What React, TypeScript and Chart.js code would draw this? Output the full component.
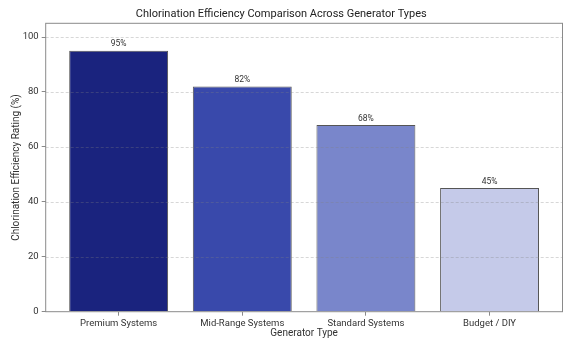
import React, { useEffect, useRef } from "react";
import { Chart, registerables } from "chart.js";

Chart.register(...registerables);

const categories = ["Premium Systems", "Mid-Range Systems", "Standard Systems", "Budget / DIY"];
const efficiency = [95, 82, 68, 45];
const barColors = ["#1a237e", "#3949ab", "#7986cb", "#c5cae9"];
const yTickValues = [0, 20, 40, 60, 80, 100];

const FONT = "Roboto, 'DejaVu Sans', sans-serif";

const overlay = {
  id: "overlay",
  afterDatasetsDraw(chart: any) {
    const { ctx, chartArea, scales } = chart;
    const { left, right, top, bottom } = chartArea;
    const y = scales.y;
    ctx.save();
    ctx.strokeStyle = "rgba(128,128,128,0.4)";
    ctx.lineWidth = 0.8;
    ctx.setLineDash([3, 2]);
    for (const v of yTickValues) {
      if (v === 0) continue;
      const py = Math.round(y.getPixelForValue(v)) + 0.5;
      ctx.beginPath();
      ctx.moveTo(left, py);
      ctx.lineTo(right, py);
      ctx.stroke();
    }
    ctx.setLineDash([]);
    ctx.strokeStyle = "#8a8a8a";
    ctx.lineWidth = 1;
    ctx.strokeRect(left, top, right - left, bottom - top);
    const meta = chart.getDatasetMeta(0);
    ctx.fillStyle = "#333";
    ctx.font = `8.5px ${FONT}`;
    ctx.textAlign = "center";
    ctx.textBaseline = "middle";
    meta.data.forEach((bar: any, i: number) => {
      ctx.fillText(efficiency[i] + "%", bar.x, bar.y - 6.5);
    });
    ctx.restore();
  },
};

export default function App() {
  const ref = useRef<HTMLCanvasElement>(null);
  useEffect(() => {
    if (!ref.current) return;
    const chart = new Chart(ref.current, {
      type: "bar",
      data: {
        datasets: [
          {
            data: efficiency.map((v, i) => ({ x: i, y: v })),
            backgroundColor: barColors,
            borderColor: "#555",
            borderWidth: 1,
            barPercentage: 0.8,
            categoryPercentage: 1,
          },
        ],
      },
      options: {
        responsive: false,
        animation: false,
        layout: { padding: { left: 0, right: 17.5, top: 0, bottom: 0 } },
        plugins: {
          legend: { display: false },
          tooltip: { enabled: false },
          title: {
            display: true,
            text: "Chlorination Efficiency Comparison Across Generator Types",
            color: "#222",
            font: { family: FONT, size: 11, weight: "normal" },
            padding: { top: 7.5, bottom: 2.6 },
          },
        },
        scales: {
          x: {
            type: "linear",
            min: -0.59,
            max: 3.59,
            offset: false,
            afterBuildTicks: (s: any) => {
              s.ticks = categories.map((_, i) => ({ value: i }));
            },
            afterFit: (s: any) => {
              s.height = 38.3;
            },
            ticks: {
              callback: (v: any) => categories[v as number] ?? "",
              color: "#333",
              font: { family: FONT, size: 9.5 },
              padding: 2,
              maxRotation: 0,
              autoSkip: false,
            },
            grid: { drawOnChartArea: false, drawTicks: true, tickLength: 4, color: "#8a8a8a", offset: false },
            border: { display: false },
            title: {
              display: true,
              text: "Generator Type",
              color: "#333",
              font: { family: FONT, size: 10 },
              padding: { top: 0, bottom: 10.4 },
            },
          },
          y: {
            min: 0,
            max: 105,
            afterBuildTicks: (s: any) => {
              s.ticks = yTickValues.map((v) => ({ value: v }));
            },
            afterFit: (s: any) => {
              s.width = 45.7;
            },
            ticks: {
              color: "#333",
              font: { family: FONT, size: 9.5 },
              padding: 3,
            },
            grid: { drawOnChartArea: false, drawTicks: true, tickLength: 4, color: "#8a8a8a" },
            border: { display: false },
            title: {
              display: true,
              text: "Chlorination Efficiency Rating (%)",
              color: "#333",
              font: { family: FONT, size: 10 },
              padding: { top: 10, bottom: 0 },
            },
          },
        },
      },
      plugins: [overlay],
    });
    return () => chart.destroy();
  }, []);
  return (
    <div style={{ position: "absolute", left: 0, top: 0, width: 580, height: 350 }}>
      <canvas ref={ref} width={580} height={350} />
    </div>
  );
}
